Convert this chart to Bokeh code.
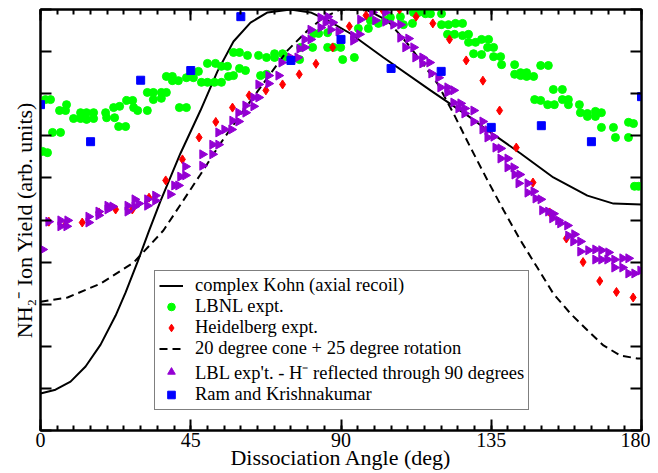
import numpy as np
from bokeh.plotting import figure
from bokeh.models import Range1d, LinearAxis, FixedTicker, Legend, LegendItem
from bokeh.embed import file_html
from bokeh.resources import INLINE

FONT = "Liberation Serif"

# ---- theory curves ----
kohn_deg = [0, 4.5, 9.0, 13.5, 18.0, 22.5, 25.5, 29.1, 32.3, 35.9,
            41.9, 47.9, 53.0, 57.8, 62.9, 68.0, 74.9, 80.9, 86.0, 92.8,
            102.7, 116.8, 128.8, 134.8, 143.8, 153.6, 163.8, 171.6, 180.0]
kohn_yield = [0.88, 0.97, 1.16, 1.52, 2.04, 2.73, 3.28, 4.01, 4.70, 5.44,
              6.58, 7.60, 8.53, 9.24, 9.69, 9.93, 10.0, 9.93, 9.74, 9.43,
              8.86, 8.08, 7.43, 7.08, 6.58, 6.01, 5.58, 5.39, 5.37]

cone_deg = [0, 8.1, 18.0, 27.9, 36.8, 47.9, 53.9, 60.8, 68.0, 74.0,
            80.0, 84.8, 89.8, 97.9, 103.9, 109.9, 113.8, 118.9, 123.7, 128.8,
            133.9, 138.7, 143.8, 148.8, 153.6, 158.7, 163.8, 168.6, 173.7, 178.8, 180.0]
cone_yield = [3.06, 3.16, 3.49, 3.99, 4.75, 6.08, 6.82, 7.60, 8.38, 9.03,
              9.50, 9.81, 10.0, 9.98, 9.74, 9.19, 8.79, 8.24, 7.53, 6.72,
              5.94, 5.23, 4.51, 3.87, 3.25, 2.78, 2.38, 2.02, 1.78, 1.71, 1.71]

# ---- LBNL expt. (green) ----
lbnl_deg = [0.6, 2.1, 1.5, 3.0, 3.6, 6.0, 5.7, 7.8, 7.5, 9.9,
            12.0, 12.0, 13.8, 13.8, 15.9, 15.9, 19.5, 19.8, 21.9, 22.2,
            23.7, 23.4, 25.5, 25.8, 27.6, 27.9, 29.1, 32.0, 32.0, 33.8,
            33.8, 36.2, 36.2, 37.7, 37.7, 39.5, 39.5, 41.3, 41.6, 43.7,
            43.7, 45.8, 47.3, 48.2, 50.0, 50.0, 52.4, 52.1, 54.2, 54.2,
            56.0, 56.3, 57.8, 57.8, 59.6, 59.6, 61.4, 62.0, 65.3, 67.7,
            65.9, 67.7, 70.1, 70.1, 72.5, 73.4, 77.6, 77.9, 81.5, 81.8,
            83.3, 86.0, 86.0, 87.8, 89.9, 90.5, 94.0, 95.2, 98.2, 98.8,
            101.2, 103.3, 104.8, 107.8, 108.7, 111.4, 111.7, 113.2, 115.3, 116.8,
            120.1, 120.1, 122.2, 124.3, 126.4, 121.9, 124.0, 126.4, 128.2, 128.2,
            130.3, 132.1, 134.2, 133.9, 135.7, 129.7, 132.1, 135.7, 137.8, 138.1,
            142.0, 142.0, 143.8, 143.8, 145.6, 145.6, 147.7, 149.8, 152.1, 148.0,
            149.8, 151.9, 153.6, 156.3, 153.9, 156.3, 158.1, 158.1, 161.4, 161.7,
            163.8, 163.8, 166.2, 166.2, 168.0, 168.0, 171.6, 172.2, 176.1, 177.6,
            176.1, 177.9, 179.1]
lbnl_yield = [6.63, 6.60, 7.86, 7.86, 7.08, 7.08, 7.60, 7.74, 7.60, 7.41,
              7.55, 7.41, 7.55, 7.39, 7.55, 7.41, 7.55, 7.43, 7.67, 7.43,
              7.70, 7.22, 7.22, 7.84, 7.84, 7.67, 7.60, 7.60, 8.03, 8.03,
              7.86, 7.89, 8.03, 8.03, 8.41, 8.41, 8.31, 8.31, 7.67, 7.67,
              8.38, 8.38, 8.53, 8.27, 8.72, 8.27, 8.72, 8.27, 8.27, 8.65,
              8.65, 8.41, 8.43, 8.98, 8.98, 8.60, 8.55, 8.91, 8.91, 8.86,
              8.43, 8.46, 8.95, 8.86, 8.95, 8.88, 8.81, 9.10, 9.10, 9.43,
              9.43, 9.45, 9.10, 9.10, 9.10, 8.81, 8.86, 9.55, 9.55, 9.74,
              9.67, 9.74, 9.81, 9.83, 9.64, 9.67, 9.93, 9.93, 9.90, 9.90,
              9.90, 9.64, 9.64, 9.67, 9.67, 9.41, 9.41, 9.38, 9.41, 9.22,
              9.22, 9.29, 9.29, 9.10, 9.10, 8.95, 8.93, 8.88, 8.88, 8.69,
              8.69, 8.46, 8.50, 8.43, 8.50, 8.41, 8.41, 8.67, 8.67, 7.86,
              7.84, 7.74, 8.10, 8.10, 7.74, 7.86, 7.86, 7.74, 7.74, 7.55,
              7.53, 7.46, 7.58, 7.46, 7.55, 7.20, 7.20, 6.96, 7.32, 7.29,
              6.96, 5.80, 5.80]

# ---- Heidelberg expt. (red) ----
heid_deg = [2.5, 7.5, 12.5, 17.5, 22.5, 27.5, 32.5, 37.5, 42.5, 47.5,
            52.5, 57.5, 62.5, 67.5, 72.5, 77.5, 82.5, 87.5, 92.5, 97.5,
            102.5, 107.5, 112.5, 117.5, 122.5, 127.5, 132.5, 137.5, 142.5, 147.5,
            152.5, 157.5, 162.5, 167.5, 172.5, 177.5]
heid_yield = [4.96, 4.89, 4.94, 5.18, 5.25, 5.25, 5.53, 5.94, 6.44, 6.96,
              7.33, 7.67, 7.96, 8.08, 8.22, 8.46, 8.71, 9.10, 9.60, 9.86,
              9.98, 10.0, 9.83, 9.67, 9.29, 8.79, 8.31, 7.60, 6.72, 5.89,
              5.18, 4.56, 4.00, 3.55, 3.29, 3.16]

# ---- LBL exp't, H- reflected (purple) ----
lbl_deg = [0.6, 2.4, 6.0, 6.0, 8.1, 7.8, 14.4, 14.4, 17.4, 17.4,
           20.1, 20.1, 21.6, 26.1, 26.1, 28.2, 28.2, 29.4, 32.0, 32.0,
           34.4, 34.4, 38.9, 40.1, 41.3, 41.9, 43.4, 43.4, 48.5, 48.5,
           51.5, 51.5, 53.3, 53.3, 55.1, 57.2, 57.5, 59.3, 59.3, 61.4,
           61.4, 63.8, 63.8, 65.3, 65.3, 68.3, 68.3, 71.3, 72.2, 74.9,
           77.0, 77.6, 79.1, 79.1, 80.9, 80.9, 83.9, 83.9, 86.0, 85.4,
           87.5, 86.9, 89.3, 93.7, 95.5, 93.7, 95.8, 100.3, 99.4, 103.3,
           103.3, 105.7, 107.8, 107.8, 110.2, 109.3, 111.7, 112.3, 114.4, 114.4,
           116.5, 117.1, 119.2, 119.8, 121.9, 121.9, 123.7, 123.7, 125.8, 125.2,
           127.0, 127.0, 129.7, 129.7, 132.4, 132.4, 133.9, 133.9, 135.7, 136.3,
           137.8, 137.8, 139.9, 139.9, 141.7, 142.0, 143.5, 143.2, 145.9, 145.9,
           147.7, 148.3, 149.8, 150.3, 152.1, 153.6, 153.3, 155.1, 155.7, 157.8,
           158.1, 159.9, 159.6, 161.7, 161.7, 164.1, 166.2, 168.0, 170.1, 166.2,
           168.0, 169.8, 171.9, 174.3, 176.1, 171.9, 174.3, 176.1, 177.9, 179.7]
lbl_yield = [4.30, 4.96, 4.99, 4.85, 4.99, 4.85, 5.08, 4.94, 5.20, 5.11,
             5.34, 5.25, 5.32, 5.34, 5.20, 5.49, 5.32, 5.39, 5.49, 5.34,
             5.58, 5.46, 5.61, 5.82, 5.82, 6.03, 6.06, 6.27, 6.29, 6.56,
             6.56, 6.79, 6.79, 7.08, 7.15, 7.15, 7.36, 7.34, 7.55, 7.55,
             7.72, 7.70, 7.91, 7.91, 8.22, 8.24, 8.43, 8.43, 8.74, 8.86,
             8.86, 9.07, 9.10, 9.29, 9.29, 9.52, 9.57, 9.81, 9.83, 9.69,
             9.69, 9.52, 9.48, 9.38, 9.41, 9.26, 9.76, 9.74, 9.93, 9.93,
             9.71, 9.64, 9.64, 9.33, 9.31, 9.10, 9.10, 8.86, 8.86, 8.72,
             8.74, 8.48, 8.38, 8.15, 8.15, 8.03, 8.08, 7.79, 7.77, 7.65,
             7.65, 7.53, 7.60, 7.34, 7.34, 7.15, 7.13, 6.96, 6.98, 6.72,
             6.70, 6.46, 6.46, 6.25, 6.25, 6.08, 6.08, 5.87, 5.87, 5.65,
             5.68, 5.51, 5.49, 5.23, 5.20, 5.15, 5.04, 4.99, 4.92, 4.87,
             4.63, 4.66, 4.49, 4.49, 4.25, 4.28, 4.30, 4.28, 4.23, 4.06,
             4.06, 4.06, 4.06, 4.09, 4.09, 3.87, 3.87, 3.73, 3.73, 3.80]

# ---- Ram and Krishnakumar (blue) ----
ram_deg = [0, 15, 30, 45, 60, 75, 90, 105, 120, 135, 150, 165, 180]
ram_yield = [7.74, 6.86, 8.32, 8.55, 9.83, 8.79, 9.29, 8.60, 8.53, 7.20, 7.24, 6.86, 7.93]

x_major = [0, 45, 90, 135, 180]
x_minor = list(range(0, 181, 5))
y_major = list(range(0, 11))

p = figure(width=650, height=473, output_backend="svg", toolbar_location=None,
           x_range=Range1d(0, 180), y_range=Range1d(0, 10),
           x_axis_type=None, y_axis_type=None,
           min_border_left=40, min_border_right=9, min_border_top=9, min_border_bottom=43,
           background_fill_color="white", border_fill_color="white")
p.outline_line_color = "black"
p.outline_line_width = 2


def make_axis(ticks, minor, show_labels):
    ax = LinearAxis(ticker=FixedTicker(ticks=ticks, minor_ticks=minor),
                    axis_line_width=2, axis_line_color="black",
                    major_tick_in=11, major_tick_out=0, major_tick_line_width=2,
                    minor_tick_in=5, minor_tick_out=0, minor_tick_line_width=2)
    if show_labels:
        ax.major_label_text_font = FONT
        ax.major_label_text_font_size = "20px"
        ax.major_label_text_color = "black"
        ax.major_label_standoff = 2
    else:
        ax.major_label_overrides = {t: "" for t in ticks}
        ax.major_label_text_font_size = "1px"
        ax.major_label_standoff = 0
    return ax


xb = make_axis(x_major, x_minor, True)
xb.axis_label = "Dissociation Angle (deg)"
xb.axis_label_text_font = FONT
xb.axis_label_text_font_size = "22px"
xb.axis_label_text_font_style = "normal"
xb.axis_label_text_color = "black"
xb.axis_label_standoff = -5
p.add_layout(xb, "below")

xt = make_axis(x_major, x_minor, False)
p.add_layout(xt, "above")

yl = make_axis(y_major, [], False)
yl.axis_label = "NH\u2082\u207b Ion Yield (arb. units)"
yl.axis_label_text_font = FONT
yl.axis_label_text_font_size = "22px"
yl.axis_label_text_font_style = "normal"
yl.axis_label_text_color = "black"
yl.axis_label_standoff = 4
p.add_layout(yl, "left")

yr = make_axis(y_major, [], False)
p.add_layout(yr, "right")

r_kohn = p.line(kohn_deg, kohn_yield, line_color="black", line_width=2)
r_lbnl = p.scatter(lbnl_deg, lbnl_yield, marker="circle", size=8,
                   fill_color="#00ff00", line_color="#00ff00")
r_heid = p.scatter(heid_deg, heid_yield, marker="diamond", size=9,
                   fill_color="#ff0000", line_color="#ff0000")
r_cone = p.line(cone_deg, cone_yield, line_color="black", line_width=2, line_dash="8 5")
r_lbl = p.scatter(lbl_deg, lbl_yield, marker="triangle", angle=-np.pi / 2, size=9,
                  fill_color="#9400d3", line_color="#9400d3")
r_ram = p.scatter(ram_deg, ram_yield, marker="square", size=8,
                  fill_color="#0000ff", line_color="#0000ff")

legend = Legend(items=[
    LegendItem(label="complex Kohn (axial recoil)", renderers=[r_kohn]),
    LegendItem(label="LBNL expt.", renderers=[r_lbnl]),
    LegendItem(label="Heidelberg expt.", renderers=[r_heid]),
    LegendItem(label="20 degree cone + 25 degree rotation", renderers=[r_cone]),
    LegendItem(label="LBL exp't. - H\u207b reflected through 90 degrees", renderers=[r_lbl]),
    LegendItem(label="Ram and Krishnakumar", renderers=[r_ram]),
], location=(114, 20))
legend.label_text_font = FONT
legend.label_text_font_size = "18.5px"
legend.label_text_color = "black"
legend.label_height = 19
legend.glyph_height = 19
legend.glyph_width = 24
legend.label_standoff = 12
legend.spacing = 0
legend.padding = 4
legend.margin = 0
legend.border_line_color = "black"
legend.border_line_width = 1
legend.background_fill_color = "white"
legend.background_fill_alpha = 1.0
p.add_layout(legend)

open("out.html", "w").write(file_html(p, INLINE))
